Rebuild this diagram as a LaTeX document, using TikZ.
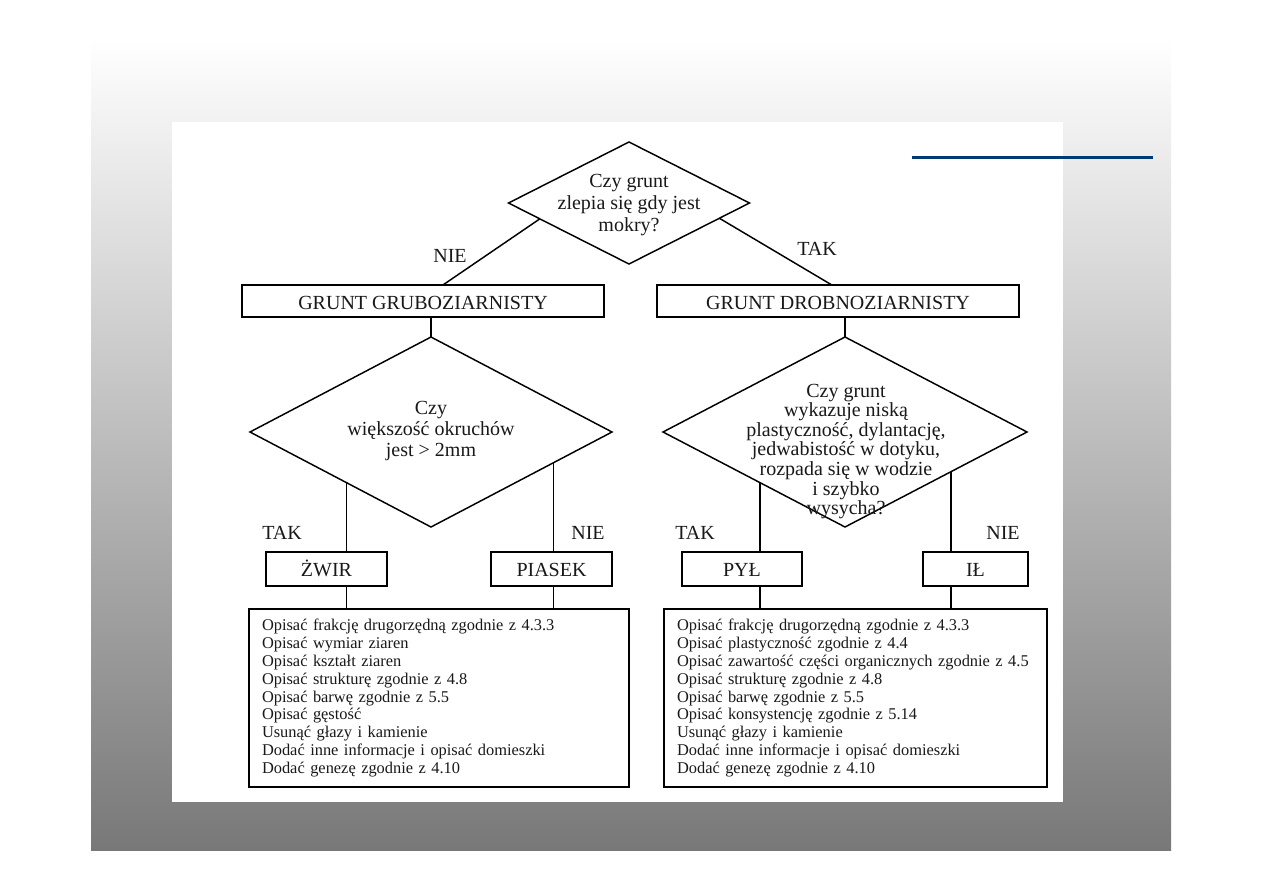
\documentclass[tikz,border=0pt]{standalone}
\usepackage{fontspec}
\setmainfont{Liberation Serif}
\usetikzlibrary{shapes.geometric,calc}
\definecolor{slidegray}{RGB}{120,120,120}
\definecolor{navyline}{RGB}{0,58,112}
\definecolor{ink}{RGB}{25,25,25}
\begin{document}
\begin{tikzpicture}[x=0.75pt,y=-0.75pt,
  every node/.style={outer sep=0pt},
  conn/.style={draw=black, line width=1.1pt},
  box/.style={draw=black, line width=1.1pt, rectangle, inner sep=0pt, minimum height=24pt,
    text height=14.3pt, text depth=1pt,
    font={\fontsize{15}{16.5}\selectfont}, text=ink},
  smallbox/.style={box, minimum height=25.5pt, text height=12.4pt, text depth=1pt},
  dia/.style={draw=black, diamond, line width=1.1pt, inner sep=0pt},
  qtext/.style={align=center, text=ink, inner sep=0pt},
  lab/.style={font={\fontsize{15}{16.5}\selectfont}, text=ink, inner sep=0pt,
    text height=10.5pt, text depth=0pt},
  listbox/.style={draw=black, rectangle, line width=1.1pt, align=left, inner xsep=9.75pt,
    inner ysep=0pt, minimum height=133.5pt, font={\fontsize{12.3}{13.4}\selectfont}, text=ink}
]
\useasboundingbox (0,0) rectangle (1263,893);
\fill[white] (0,0) rectangle (1263,893);
\shade[top color=white, bottom color=slidegray] (91,40) rectangle (1171,850);
\fill[white] (172,122) rectangle (1063,802);
\draw[navyline, line width=2.25pt] (912,157) -- (1153,157);

% decisions
\node[dia, minimum width=180.75pt, minimum height=91.5pt] (d1) at (629,203) {};
\node[qtext, font={\fontsize{15}{16.5}\selectfont}] (d1t) at (629,205) {Czy grunt\\zlepia się gdy jest\\mokry?};

\node[box, minimum width=271.5pt] (b1) at (423,301) {GRUNT GRUBOZIARNISTY};
\node[box, minimum width=271.5pt] (b2) at (838,301) {GRUNT DROBNOZIARNISTY};

\node[dia, minimum width=271.5pt, minimum height=142.5pt] (d2) at (431,432) {};
\node[qtext, font={\fontsize{15}{15.75}\selectfont}] (d2t) at (431,431) {Czy\\większość okruchów\\jest > 2mm};

\node[dia, minimum width=273pt, minimum height=142.5pt] (d3) at (845,432) {};
\node[qtext, font={\fontsize{15}{14.7}\selectfont}] (d3t) at (846,451.5) {Czy grunt\\wykazuje niską\\plastyczność, dylantację,\\jedwabistość w dotyku,\\rozpada się w wodzie\\i szybko\\wysycha?};

% result boxes
\node[smallbox, minimum width=90.75pt] (zwir) at (326.5,569) {ŻWIR};
\node[smallbox, minimum width=90.75pt] (piasek) at (551.5,569) {PIASEK};
\node[smallbox, minimum width=90pt] (pyl) at (742,569) {PYŁ};
\node[smallbox, minimum width=78.75pt] (il) at (975.5,569) {IŁ};

\node[listbox, text width=265.5pt] (opisL) at (439,698) {Opisać frakcję drugorzędną zgodnie z 4.3.3\\
Opisać wymiar ziaren\\
Opisać kształt ziaren\\
Opisać strukturę zgodnie z 4.8\\
Opisać barwę zgodnie z 5.5\\
Opisać gęstość\\
Usunąć głazy i kamienie\\
Dodać inne informacje i opisać domieszki\\
Dodać genezę zgodnie z 4.10};
\node[listbox, text width=267.75pt] (opisR) at (855.5,698) {Opisać frakcję drugorzędną zgodnie z 4.3.3\\
Opisać plastyczność zgodnie z 4.4\\
Opisać zawartość części organicznych zgodnie z 4.5\\
Opisać strukturę zgodnie z 4.8\\
Opisać barwę zgodnie z 5.5\\
Opisać konsystencję zgodnie z 5.14\\
Usunąć głazy i kamienie\\
Dodać inne informacje i opisać domieszki\\
Dodać genezę zgodnie z 4.10};

% labels
\node[lab] (nie1) at (450,255) {NIE};
\node[lab] (tak1) at (817,248) {TAK};
\node[lab] (tak2) at (282,532) {TAK};
\node[lab] (nie2) at (588,532) {NIE};
\node[lab] (tak3) at (695,532) {TAK};
\node[lab] (nie3) at (1003,532) {NIE};

% connectors
\coordinate (d1l) at ($(d1.west)!0.26!(d1.south)$);
\coordinate (d1r) at ($(d1.east)!0.25!(d1.south)$);
\coordinate (b1t) at ($(b1.north west)!0.555!(b1.north east)$);
\coordinate (b2t) at ($(b2.north west)!0.483!(b2.north east)$);
\draw[conn] (d1l) -- (b1t);
\draw[conn] (d1r) -- (b2t);

\draw[conn] (b1.south -| d2.north) -- (d2.north);
\draw[conn] (b2.south -| d3.north) -- (d3.north);

\coordinate (d2l) at ($(d2.west)!0.533!(d2.south)$);
\coordinate (d2r) at ($(d2.east)!0.324!(d2.south)$);
\coordinate (d3l) at ($(d3.west)!0.533!(d3.south)$);
\coordinate (d3r) at ($(d3.east)!0.418!(d3.south)$);

\draw[conn] (d2l) -- (d2l |- zwir.north);
\draw[conn] (d2l |- zwir.south) -- (d2l |- opisL.north);
\draw[conn] (d2r) -- (d2r |- piasek.north);
\draw[conn] (d2r |- piasek.south) -- (d2r |- opisL.north);
\draw[conn] (d3l) -- (d3l |- pyl.north);
\draw[conn] (d3l |- pyl.south) -- (d3l |- opisR.north);
\draw[conn] (d3r) -- (d3r |- il.north);
\draw[conn] (d3r |- il.south) -- (d3r |- opisR.north);
\end{tikzpicture}
\end{document}
